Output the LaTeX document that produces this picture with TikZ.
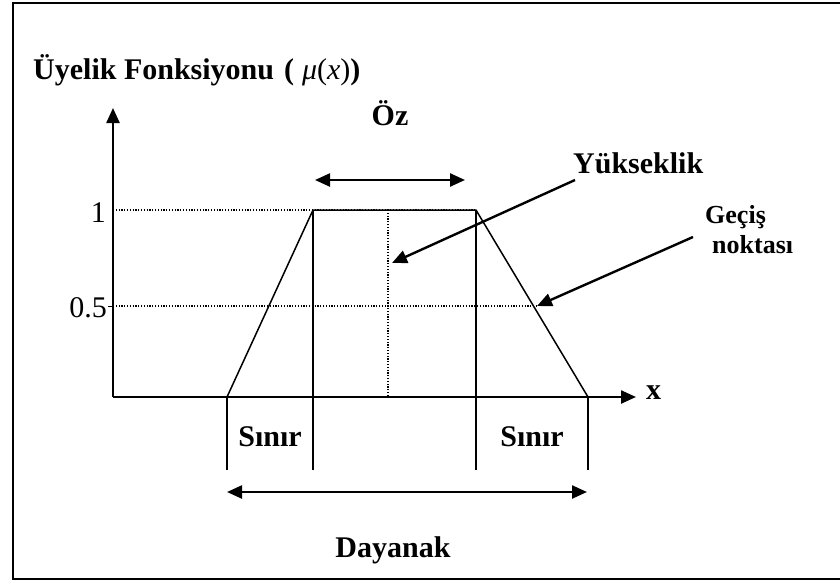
\documentclass[tikz,border=0pt]{standalone}
\usepackage{fontspec}
\setmainfont{Liberation Serif}
\usetikzlibrary{arrows.meta}
\begin{document}
\begin{tikzpicture}[x=1pt,y=-1pt,
  tip/.style={-{Triangle[length=15pt,width=13pt]}},
  axisline/.style={line width=2.4pt,tip},
  dblarrow/.style={line width=2.4pt,{Triangle[length=15pt,width=13pt]}-{Triangle[length=15pt,width=13pt]}},
  pointer/.style={line width=2.4pt,tip},
  trapline/.style={line width=1.5pt},
  dotline/.style={line width=1.1pt,dash pattern=on 1.2pt off 1.6pt},
  lbl/.style={font=\fontsize{30}{34}\selectfont\bfseries, inner sep=0pt},
  smalllbl/.style={font=\fontsize{26}{30}\selectfont\bfseries, inner sep=0pt},
  num/.style={font=\fontsize{30}{34}\selectfont, inner sep=0pt},
]
\useasboundingbox (0,0) rectangle (840,581);
% frame (right side open)
\draw[line width=2pt] (842,3) -- (13,3) -- (13,579) -- (842,579);

% key points
\coordinate (O) at (113,397);
\coordinate (ytop) at (113,108);
\coordinate (xend) at (636,397);
\coordinate (A) at (227,397);
\coordinate (B) at (313,210);
\coordinate (C) at (476,210);
\coordinate (D) at (588,397);
\coordinate (Ab) at (227,470);
\coordinate (Bb) at (313,470);
\coordinate (Cb) at (476,470);
\coordinate (Db) at (588,470);
\coordinate (y1) at (113,210);
\coordinate (yh) at (113,306);
\coordinate (yhtick) at (108,306);
\coordinate (hend) at (537,306);
\coordinate (mtop) at (388,210);
\coordinate (mbot) at (388,397);

% dotted guides
\draw[dotline] (y1) -- (C);
\draw[dotline] (yh) -- (hend);
\draw[dotline] (mtop) -- (mbot);
\draw[line width=1pt] (yhtick) -- (yh);

% trapezoid and verticals
\draw[trapline] (A) -- (B) -- (C) -- (D);
\draw[trapline] (A) -- (Ab);
\draw[trapline] (B) -- (Bb);
\draw[trapline] (C) -- (Cb);
\draw[trapline] (D) -- (Db);

% axes
\draw[axisline] (O) -- (ytop);
\draw[axisline] (O) -- (xend);

% labels
\node[lbl, anchor=base west] (title) at (33,79) {Üyelik Fonksiyonu\hspace{10pt}(\hspace{8pt}{\mdseries\itshape μ}\textmd{(}{\mdseries\itshape x}\textmd{)})};
\node[lbl, anchor=base] (oz) at (390,125) {Öz};
\node[lbl, anchor=base west] (yuk) at (573,173) {Yükseklik};
\node[smalllbl, anchor=base west] (gec) at (705,223) {Geçiş};
\node[smalllbl, anchor=base west] (nok) at (712,253) {noktası};
\node[lbl, anchor=base west] (xl) at (646,399) {x};
\node[num, anchor=base east] (one) at (106,222) {1};
\node[num, anchor=base east] (half) at (107,317) {0.5};
\node[lbl, anchor=base] (s1) at (270,446) {Sınır};
\node[lbl, anchor=base] (s2) at (532,446) {Sınır};
\node[lbl, anchor=base] (day) at (393,557) {Dayanak};

% arrows
\coordinate (ozL) at (315,180);
\coordinate (ozR) at (465,180);
\draw[dblarrow] (ozL) -- (ozR);
\coordinate (yukS) at (575,180);
\coordinate (yukT) at (392,263);
\draw[pointer] (yukS) -- (yukT);
\coordinate (gecS) at (693,237);
\coordinate (gecT) at (537,306);
\draw[pointer] (gecS) -- (gecT);
\coordinate (dayL) at (227,492);
\coordinate (dayR) at (587,492);
\draw[dblarrow] (dayL) -- (dayR);
\end{tikzpicture}
\end{document}
